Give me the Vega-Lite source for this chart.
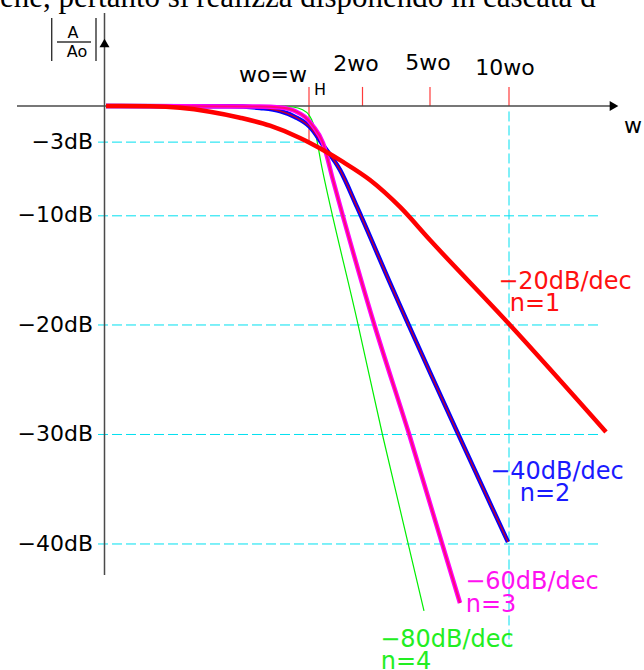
{
  "$schema": "https://vega.github.io/schema/vega-lite/v6.json",
  "width": 644,
  "height": 670,
  "autosize": {"type": "none"},
  "padding": 0,
  "background": "white",
  "config": {"view": {"stroke": null}},
  "datasets": {
    "curves": [
      {"n": 1, "d": -1.015, "dB": 0}, {"n": 1, "d": -0.795, "dB": -0.03}, {"n": 1, "d": -0.645, "dB": -0.16},
      {"n": 1, "d": -0.495, "dB": -0.52}, {"n": 1, "d": -0.345, "dB": -1.07}, {"n": 1, "d": -0.195, "dB": -1.8},
      {"n": 1, "d": -0.045, "dB": -2.92}, {"n": 1, "d": 0.07, "dB": -4.02}, {"n": 1, "d": 0.17, "dB": -5.11},
      {"n": 1, "d": 0.305, "dB": -6.76}, {"n": 1, "d": 0.455, "dB": -9.22}, {"n": 1, "d": 0.605, "dB": -12.24},
      {"n": 1, "d": 1.005, "dB": -20.0}, {"n": 1, "d": 1.485, "dB": -29.77},
      {"n": 2, "d": -1.015, "dB": 0}, {"n": 2, "d": -0.395, "dB": -0.03}, {"n": 2, "d": -0.245, "dB": -0.18},
      {"n": 2, "d": -0.145, "dB": -0.46}, {"n": 2, "d": -0.07, "dB": -1.0}, {"n": 2, "d": 0.005, "dB": -1.92},
      {"n": 2, "d": 0.07, "dB": -3.56}, {"n": 2, "d": 0.155, "dB": -5.84}, {"n": 2, "d": 0.24, "dB": -9.22},
      {"n": 2, "d": 0.405, "dB": -16.16}, {"n": 2, "d": 0.995, "dB": -39.82},
      {"n": 3, "d": -1.015, "dB": 0}, {"n": 3, "d": -0.245, "dB": -0.05}, {"n": 3, "d": -0.145, "dB": -0.14},
      {"n": 3, "d": -0.07, "dB": -0.46}, {"n": 3, "d": -0.02, "dB": -1.0}, {"n": 3, "d": 0.02, "dB": -1.83},
      {"n": 3, "d": 0.07, "dB": -3.38}, {"n": 3, "d": 0.12, "dB": -6.76}, {"n": 3, "d": 0.315, "dB": -19.27},
      {"n": 3, "d": 0.505, "dB": -30.23}, {"n": 3, "d": 0.755, "dB": -45.39},
      {"n": 4, "d": -1.015, "dB": 0}, {"n": 4, "d": -0.145, "dB": -0.03}, {"n": 4, "d": -0.08, "dB": -0.09},
      {"n": 4, "d": -0.035, "dB": -0.32}, {"n": 4, "d": 0.0, "dB": -0.82}, {"n": 4, "d": 0.02, "dB": -1.55},
      {"n": 4, "d": 0.065, "dB": -5.66}, {"n": 4, "d": 0.24, "dB": -19.54}, {"n": 4, "d": 0.37, "dB": -30.23},
      {"n": 4, "d": 0.575, "dB": -46.12}
    ],
    "rules": [
      {"kind": "grid", "d": -1.055, "d2": -0.01, "dB": -3.3, "dB2": -3.3},
      {"kind": "grid", "d": -1.055, "d2": 1.455, "dB": -10.03, "dB2": -10.03},
      {"kind": "grid", "d": -1.055, "d2": 1.455, "dB": -20, "dB2": -20},
      {"kind": "grid", "d": -1.055, "d2": 1.455, "dB": -30, "dB2": -30},
      {"kind": "grid", "d": -1.055, "d2": 1.455, "dB": -40, "dB2": -40},
      {"kind": "grid", "d": 1.0, "d2": 1.0, "dB": -0.5, "dB2": -49.2},
      {"kind": "tick", "d": 0, "d2": 0, "dB": 1.74, "dB2": -3.4},
      {"kind": "tick", "d": 0.2675, "d2": 0.2675, "dB": 1.74, "dB2": 0},
      {"kind": "tick", "d": 0.605, "d2": 0.605, "dB": 1.74, "dB2": 0},
      {"kind": "tick", "d": 1.0, "d2": 1.0, "dB": 1.74, "dB2": 0},
      {"kind": "axis", "d": -1.0225, "d2": -1.0225, "dB": 8.49, "dB2": -42.83},
      {"kind": "axis", "d": -1.46, "d2": 1.515, "dB": 0, "dB2": 0},
      {"kind": "bar", "d": -1.2865, "d2": -1.2865, "dB": 8.04, "dB2": 4.11},
      {"kind": "bar", "d": -1.065, "d2": -1.065, "dB": 8.04, "dB2": 4.11},
      {"kind": "bar", "d": -1.26, "d2": -1.09, "dB": 5.84, "dB2": 5.84}
    ],
    "arrows": [
      {"shape": "triangle-up", "d": -1.0225, "dB": 5.75},
      {"shape": "triangle-right", "d": 1.525, "dB": 0}
    ],
    "labels": [
      {"g": "y", "text": "−3dB", "d": -1.08, "dB": -3.3},
      {"g": "y", "text": "−10dB", "d": -1.08, "dB": -10},
      {"g": "y", "text": "−20dB", "d": -1.08, "dB": -20},
      {"g": "y", "text": "−30dB", "d": -1.08, "dB": -30},
      {"g": "y", "text": "−40dB", "d": -1.08, "dB": -40},
      {"g": "top", "text": "wo=w", "d": -0.18, "dB": 2.83},
      {"g": "top", "text": "2wo", "d": 0.235, "dB": 3.84},
      {"g": "top", "text": "5wo", "d": 0.595, "dB": 3.93},
      {"g": "top", "text": "10wo", "d": 0.98, "dB": 3.47},
      {"g": "small", "text": "H", "d": 0.055, "dB": 1.46},
      {"g": "small", "text": "A", "d": -1.18, "dB": 6.71},
      {"g": "small", "text": "Ao", "d": -1.16, "dB": 4.93},
      {"g": "top", "text": "w", "d": 1.62, "dB": -1.83},
      {"g": "c1", "text": "−20dB/dec", "d": 1.28, "dB": -16.07},
      {"g": "c1", "text": "n=1", "d": 1.13, "dB": -18.05},
      {"g": "c2", "text": "−40dB/dec", "d": 1.24, "dB": -33.42},
      {"g": "c2", "text": "n=2", "d": 1.18, "dB": -35.4},
      {"g": "c3", "text": "−60dB/dec", "d": 1.115, "dB": -43.47},
      {"g": "c3", "text": "n=3", "d": 0.91, "dB": -45.6},
      {"g": "c4", "text": "−80dB/dec", "d": 0.69, "dB": -48.77},
      {"g": "c4", "text": "n=4", "d": 0.485, "dB": -50.8},
      {"g": "header", "text": "ene, pertanto si realizza disponendo in cascata d", "d": -1.545, "dB": 9.04}
    ]
  },
  "encoding": {
    "x": {"field": "d", "type": "quantitative", "scale": {"domain": [-1.545, 1.675], "nice": false, "zero": false}, "axis": null},
    "y": {"field": "dB", "type": "quantitative", "scale": {"domain": [-51.51, 9.68], "nice": false, "zero": false}, "axis": null}
  },
  "layer": [
    {"data": {"name": "rules"}, "transform": [{"filter": "datum.kind == 'grid'"}],
     "mark": {"type": "rule", "color": "#00e0f0", "strokeWidth": 1, "strokeDash": [10, 4]},
     "encoding": {"x2": {"field": "d2"}, "y2": {"field": "dB2"}}},
    {"data": {"name": "rules"}, "transform": [{"filter": "datum.kind == 'tick'"}],
     "mark": {"type": "rule", "color": "#ff3b3b", "strokeWidth": 1.2},
     "encoding": {"x2": {"field": "d2"}, "y2": {"field": "dB2"}}},
    {"data": {"name": "rules"}, "transform": [{"filter": "datum.kind == 'axis'"}],
     "mark": {"type": "rule", "color": "#4a4a4a", "strokeWidth": 1.5},
     "encoding": {"x2": {"field": "d2"}, "y2": {"field": "dB2"}}},
    {"data": {"name": "rules"}, "transform": [{"filter": "datum.kind == 'bar'"}],
     "mark": {"type": "rule", "color": "#333333", "strokeWidth": 1.4},
     "encoding": {"x2": {"field": "d2"}, "y2": {"field": "dB2"}}},
    {"data": {"name": "arrows"},
     "mark": {"type": "point", "filled": true, "color": "black", "size": 100, "opacity": 1},
     "encoding": {"shape": {"field": "shape", "type": "nominal", "scale": null}}},
    {"data": {"name": "curves"}, "transform": [{"filter": "datum.n == 4"}],
     "mark": {"type": "line", "color": "#00ee00", "strokeWidth": 1.2, "interpolate": "monotone"}},
    {"data": {"name": "curves"}, "transform": [{"filter": "datum.n == 2"}],
     "mark": {"type": "line", "color": "#0000ff", "strokeWidth": 4.5, "interpolate": "monotone"}},
    {"data": {"name": "curves"}, "transform": [{"filter": "datum.n == 2"}],
     "mark": {"type": "line", "color": "#c00030", "strokeWidth": 1.5, "interpolate": "monotone"}},
    {"data": {"name": "curves"}, "transform": [{"filter": "datum.n == 3"}],
     "mark": {"type": "line", "color": "#ff00ff", "strokeWidth": 4.5, "interpolate": "monotone"}},
    {"data": {"name": "curves"}, "transform": [{"filter": "datum.n == 3"}],
     "mark": {"type": "line", "color": "#ff0a78", "strokeWidth": 2, "interpolate": "monotone"}},
    {"data": {"name": "curves"}, "transform": [{"filter": "datum.n == 1"}],
     "mark": {"type": "line", "color": "#ff0000", "strokeWidth": 4.5, "interpolate": "monotone"}},
    {"data": {"name": "labels"}, "transform": [{"filter": "datum.g == 'y'"}],
     "mark": {"type": "text", "font": "DejaVu Sans", "fontSize": 22, "align": "right", "baseline": "middle", "color": "black"},
     "encoding": {"text": {"field": "text"}}},
    {"data": {"name": "labels"}, "transform": [{"filter": "datum.g == 'top'"}],
     "mark": {"type": "text", "font": "DejaVu Sans", "fontSize": 22, "align": "center", "baseline": "middle", "color": "black"},
     "encoding": {"text": {"field": "text"}}},
    {"data": {"name": "labels"}, "transform": [{"filter": "datum.g == 'small'"}],
     "mark": {"type": "text", "font": "DejaVu Sans", "fontSize": 16, "align": "center", "baseline": "middle", "color": "black"},
     "encoding": {"text": {"field": "text"}}},
    {"data": {"name": "labels"}, "transform": [{"filter": "datum.g == 'c1'"}],
     "mark": {"type": "text", "font": "DejaVu Sans", "fontSize": 24, "align": "center", "baseline": "middle", "color": "#ff1010"},
     "encoding": {"text": {"field": "text"}}},
    {"data": {"name": "labels"}, "transform": [{"filter": "datum.g == 'c2'"}],
     "mark": {"type": "text", "font": "DejaVu Sans", "fontSize": 24, "align": "center", "baseline": "middle", "color": "#1a1aff"},
     "encoding": {"text": {"field": "text"}}},
    {"data": {"name": "labels"}, "transform": [{"filter": "datum.g == 'c3'"}],
     "mark": {"type": "text", "font": "DejaVu Sans", "fontSize": 24, "align": "center", "baseline": "middle", "color": "#ff10f0"},
     "encoding": {"text": {"field": "text"}}},
    {"data": {"name": "labels"}, "transform": [{"filter": "datum.g == 'c4'"}],
     "mark": {"type": "text", "font": "DejaVu Sans", "fontSize": 24, "align": "center", "baseline": "middle", "color": "#22ee22"},
     "encoding": {"text": {"field": "text"}}},
    {"data": {"name": "labels"}, "transform": [{"filter": "datum.g == 'header'"}],
     "mark": {"type": "text", "font": "Liberation Serif", "fontSize": 31, "align": "left", "baseline": "alphabetic", "color": "black"},
     "encoding": {"text": {"field": "text"}}}
  ]
}
